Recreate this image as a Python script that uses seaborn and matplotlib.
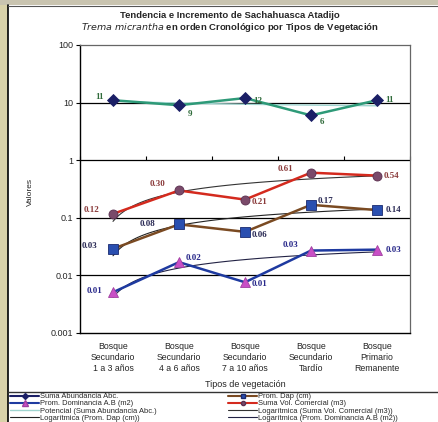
import numpy as np
import pandas as pd
import matplotlib
matplotlib.use("Agg")
import matplotlib.pyplot as plt
from matplotlib.lines import Line2D
from matplotlib.patches import Rectangle
import seaborn as sns

# --- data -------------------------------------------------------------
categorias = [
    "Bosque\nSecundario\n1 a 3 años",
    "Bosque\nSecundario\n4 a 6 años",
    "Bosque\nSecundario\n7 a 10 años",
    "Bosque\nSecundario\nTardío",
    "Bosque\nPrimario\nRemanente",
]
suma_abundancia = [11, 9, 12, 6, 11]
prom_dap = [0.029, 0.077, 0.057, 0.168, 0.136]
suma_vol = [0.117, 0.298, 0.207, 0.607, 0.54]
prom_dominancia = [0.0051, 0.017, 0.0076, 0.027, 0.028]

y_ticks = [0.001, 0.01, 0.1, 1, 10, 100]
y_tick_labels = ["0.001", "0.01", "0.1", "1", "10", "100"]

# --- style ------------------------------------------------------------
sns.set_style("white")
plt.rcParams["font.family"] = ["Liberation Sans", "DejaVu Sans"]

fig = plt.figure(figsize=(4.38, 4.22), dpi=100)
fig.patch.set_facecolor("white")

# scanned page edge and frame
fig.patches.append(Rectangle((0, 0), 8 / 438, 1, transform=fig.transFigure,
                             facecolor="#d9d2a9", edgecolor="none", zorder=0))
fig.patches.append(Rectangle((0, 1 - 5 / 422), 1, 5 / 422, transform=fig.transFigure,
                             facecolor="#c9c4b0", edgecolor="none", zorder=0))
fig.add_artist(Line2D([8 / 438, 8 / 438], [0, 1 - 5 / 422], transform=fig.transFigure,
                      color="black", lw=1.2))
fig.add_artist(Line2D([8 / 438, 1], [1 - 6 / 422, 1 - 6 / 422], transform=fig.transFigure,
                      color="#555555", lw=0.8))
fig.add_artist(Line2D([8 / 438, 1], [1 - 392 / 422, 1 - 392 / 422], transform=fig.transFigure,
                      color="#333333", lw=1.0))

ax = fig.add_axes([80 / 438, 1 - 333 / 422, 330 / 438, 288 / 422])
ax.set_facecolor("white")

pos = np.arange(len(categorias))
ax.set_yscale("log")
ax.set_ylim(0.001, 100)
ax.set_xlim(-0.5, len(categorias) - 0.5)

# horizontal major gridlines
for g in [0.01, 0.1, 1, 10]:
    ax.axhline(g, color="black", lw=0.9, zorder=1)

# --- trendlines (Excel-style fits over x = 1..n) -----------------------
xe = pos + 1.0
xd = np.linspace(1, len(categorias), 120)


def log_fit(vals):
    a, b = np.polyfit(np.log(xe), np.asarray(vals, float), 1)
    return a * np.log(xd) + b


def pow_fit(vals):
    b, ln_a = np.polyfit(np.log(xe), np.log(np.asarray(vals, float)), 1)
    return np.exp(ln_a) * xd ** b


trend_specs = [
    (pow_fit(suma_abundancia), "#9fd4cf", 1.0),
    (log_fit(prom_dap), "#222222", 0.8),
    (log_fit(suma_vol), "#333333", 0.8),
    (log_fit(prom_dominancia), "#222244", 0.8),
]
for yv, c, lw in trend_specs:
    ok = yv > 0
    ax.plot(xd[ok] - 1, yv[ok], color=c, lw=lw, zorder=2)

# --- data series ------------------------------------------------------
series = [
    ("Suma Abundancia Abc.", suma_abundancia, "#2e9a78", "D", "#1b1f66", "#1b1f66", 6),
    ("Prom. Dap (cm)", prom_dap, "#7a4a22", "s", "#2a4fb0", "#1a2a70", 7),
    ("Suma Vol. Comercial (m3)", suma_vol, "#d42a1e", "o", "#7a4a6a", "#5a3050", 6.5),
    ("Prom. Dominancia A.B (m2)", prom_dominancia, "#1e3aa0", "^", "#c94fc6", "#a040a0", 7.5),
]
for name, vals, lc, mk, mfc, mec, ms in series:
    df = pd.DataFrame({"pos": pos, "valor": vals})
    sns.lineplot(data=df, x="pos", y="valor", ax=ax, color=lc, lw=1.8,
                 marker=mk, markersize=ms, markerfacecolor=mfc,
                 markeredgecolor=mec, markeredgewidth=0.6, zorder=4, legend=False)

# --- data labels ------------------------------------------------------
lab_font = dict(family=["Liberation Serif", "DejaVu Serif"], fontsize=6.5, fontweight="bold")


def put_labels(vals, fmt, color, offsets):
    for i, (v, (dx, dy, ha)) in enumerate(zip(vals, offsets)):
        ax.annotate(format(v, fmt), (pos[i], v), xytext=(dx, dy), textcoords="offset points",
                    ha=ha, va="center", color=color, zorder=6, **lab_font)


put_labels(suma_abundancia, ".0f", "#2f6b3a",
           [(-7, 2, "right"), (6, -6, "left"), (6, -2, "left"), (6, -5, "left"), (6, 0, "left")])
put_labels(suma_vol, ".2f", "#8a3a3a",
           [(-10, 3, "right"), (-10, 5, "right"), (5, -2, "left"), (-13, 3, "right"), (5, 0, "left")])
put_labels(prom_dap, ".2f", "#2a2a55",
           [(-11, 2, "right"), (-17, 0, "right"), (5, -2, "left"), (5, 3, "left"), (6, 0, "left")])
put_labels(prom_dominancia, ".2f", "#28288a",
           [(-8, 1, "right"), (5, 3, "left"), (5, -1, "left"), (-9, 4, "right"), (6, 0, "left")])

# --- axes -------------------------------------------------------------
ax.set_yticks(y_ticks)
ax.set_yticklabels(y_tick_labels)
ax.yaxis.set_minor_locator(matplotlib.ticker.NullLocator())
ax.tick_params(axis="y", which="major", left=True, direction="out", length=3,
               width=0.8, labelsize=6.5, pad=2, color="black")
ax.set_xticks(pos)
ax.set_xticklabels(categorias, fontsize=6.3, linespacing=1.3)
ax.tick_params(axis="x", bottom=False, pad=3)

# category axis crossing at 1, with tick marks between categories
sec = ax.secondary_xaxis(0.6)
sec.set_xticks(np.arange(len(categorias) + 1) - 0.5)
sec.set_xticklabels([])
sec.tick_params(axis="x", direction="out", length=3, width=0.8, color="black")
sec.spines["bottom"].set_visible(False)
sec.spines["top"].set_visible(False)

for side in ["top", "right"]:
    ax.spines[side].set_color("#666666")
    ax.spines[side].set_linewidth(0.9)
for side in ["left", "bottom"]:
    ax.spines[side].set_color("black")
    ax.spines[side].set_linewidth(1.0)

ax.set_xlabel("Tipos de vegetación", fontsize=6.5, labelpad=5)
ax.set_ylabel("Valores", fontsize=6)
ax.yaxis.set_label_coords(-0.14, 0.49)

# --- titles -----------------------------------------------------------
fig.text(0.525, 1 - 15 / 422, "Tendencia e Incremento de Sachahuasca Atadijo",
         ha="center", va="center", fontsize=6.8, fontweight="bold")
fig.text(0.525, 1 - 27 / 422,
         r"$\it{Trema\ micrantha}$" + " en orden Cronológico por Tipos de Vegetación",
         ha="center", va="center", fontsize=6.8, fontweight="bold")

# --- legend -----------------------------------------------------------
handles = [
    Line2D([], [], color="#1b1f66", lw=1.5, marker="D", ms=3, mfc="#1b1f66", mec="#1b1f66"),
    Line2D([], [], color="#1e3aa0", lw=1.5, marker="^", ms=4, mfc="#c94fc6", mec="#a040a0"),
    Line2D([], [], color="#9fd4cf", lw=1.0),
    Line2D([], [], color="#222222", lw=0.8),
    Line2D([], [], color="#7a4a22", lw=1.5, marker="s", ms=3.5, mfc="#2a4fb0", mec="#1a2a70"),
    Line2D([], [], color="#d42a1e", lw=1.5, marker="o", ms=3, mfc="#7a4a6a", mec="#5a3050"),
    Line2D([], [], color="#333333", lw=0.8),
    Line2D([], [], color="#222244", lw=0.8),
]
labels = [
    "Suma Abundancia Abc.",
    "Prom. Dominancia A.B (m2)",
    "Potencial (Suma Abundancia Abc.)",
    "Logarítmica (Prom. Dap (cm))",
    "Prom. Dap (cm)",
    "Suma Vol. Comercial (m3)",
    "Logarítmica (Suma Vol. Comercial (m3))",
    "Logarítmica (Prom. Dominancia A.B (m2))",
]
fig.legend(handles, labels, ncol=2, loc="upper left",
           bbox_to_anchor=(10 / 438, 1 - 392.5 / 422), frameon=False,
           fontsize=5.4, handlelength=3.8, handletextpad=0.2, labelspacing=0.0,
           columnspacing=9.5, borderpad=0.05, borderaxespad=0)

fig.savefig("out.png", dpi=100, facecolor=fig.get_facecolor())
